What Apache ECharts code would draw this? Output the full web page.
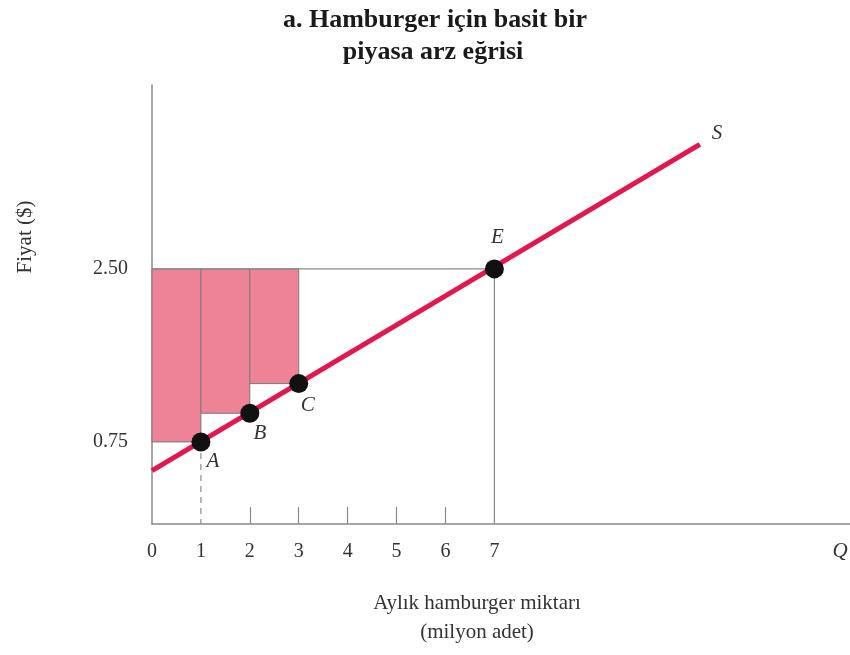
<!DOCTYPE html>
<html><head><meta charset="utf-8">
<script src="https://cdn.jsdelivr.net/npm/echarts@6/dist/echarts.min.js"></script>
<style>html,body{margin:0;padding:0;background:#fff}#c{width:850px;height:655px}</style>
</head><body><div id="c"></div>
<script>
// ---- data ----
const quantities = [1, 2, 3, 7];
const supplyPrices = [0.75, 1.04, 1.34, 2.50];
const pointNames = ['A', 'B', 'C', 'E'];
const marketPrice = 2.50;
const supplyCurveQ = [0, 11.2];
const supplyCurveP = [0.46, 3.76];
const xTickLabels = [0, 1, 2, 3, 4, 5, 6, 7];
const yTickLabels = [0.75, 2.50];
const rectQ = [1, 2, 3];
const rectP = [0.75, 1.04, 1.34];

const SERIF = '"Liberation Serif", "DejaVu Serif", serif';
const yMin = -0.08, yMax = 4.36, xMax = 14.27;
const gray = '#8a8a8a';

const chart = echarts.init(document.getElementById('c'), null, {renderer: 'canvas'});

const labelOffsets = [[12, 20], [10, 20], [9, 22], [3, -31]];

chart.setOption({
  animation: false,
  grid: {left: 152, top: 85, right: 0, bottom: 131, containLabel: false},
  xAxis: {
    type: 'value', min: 0, max: xMax,
    axisLine: {show: true, onZero: false, lineStyle: {color: gray, width: 1.5}},
    axisTick: {show: true, inside: true, length: 17, customValues: [2, 3, 4, 5, 6], lineStyle: {color: gray, width: 1.2}},
    axisLabel: {customValues: xTickLabels, fontFamily: SERIF, fontSize: 20, color: '#333', margin: 18, formatter: v => String(v)},
    splitLine: {show: false}
  },
  yAxis: {
    type: 'value', min: yMin, max: yMax,
    axisLine: {show: true, onZero: false, lineStyle: {color: gray, width: 1.5}},
    axisTick: {show: false},
    axisLabel: {customValues: yTickLabels, fontFamily: SERIF, fontSize: 20, color: '#333', margin: 24, formatter: v => v.toFixed(2)},
    splitLine: {show: false}
  },
  graphic: [
    {type: 'text', x: 435, y: 20, style: {text: 'a. Hamburger için basit bir', font: 'bold 26px ' + SERIF, fill: '#1a1a1a', align: 'center', verticalAlign: 'middle'}},
    {type: 'text', x: 433, y: 52, style: {text: 'piyasa arz eğrisi', font: 'bold 26px ' + SERIF, fill: '#1a1a1a', align: 'center', verticalAlign: 'middle'}},
    {type: 'text', x: 25, y: 237, rotation: Math.PI / 2, style: {text: 'Fiyat ($)', font: '21px ' + SERIF, fill: '#333', align: 'center', verticalAlign: 'middle'}},
    {type: 'text', x: 477, y: 603, style: {text: 'Aylık hamburger miktarı', font: '21px ' + SERIF, fill: '#333', align: 'center', verticalAlign: 'middle'}},
    {type: 'text', x: 477, y: 632, style: {text: '(milyon adet)', font: '21px ' + SERIF, fill: '#333', align: 'center', verticalAlign: 'middle'}},
    {type: 'text', x: 840, y: 551, style: {text: 'Q', font: 'italic 21px ' + SERIF, fill: '#333', align: 'center', verticalAlign: 'middle'}},
    {type: 'text', x: 717, y: 133, style: {text: 'S', font: 'italic 21px ' + SERIF, fill: '#333', align: 'center', verticalAlign: 'middle'}}
  ],
  series: [
    {
      type: 'custom', z: 1,
      data: rectQ.map((q, i) => [q, rectP[i]]),
      renderItem: (params, api) => {
        const q = api.value(0), p = api.value(1);
        const tl = api.coord([q - 1, marketPrice]);
        const br = api.coord([q, p]);
        return {type: 'rect', shape: {x: tl[0], y: tl[1], width: br[0] - tl[0], height: br[1] - tl[1]},
          style: {fill: '#ee8398', stroke: '#7a7a7a', lineWidth: 1}};
      }
    },
    {type: 'line', z: 2, data: [[0, marketPrice], [7, marketPrice]], symbol: 'none', lineStyle: {color: gray, width: 1.2}},
    {type: 'line', z: 2, data: [[7, marketPrice], [7, yMin]], symbol: 'none', lineStyle: {color: gray, width: 1.2}},
    {type: 'line', z: 2, data: [[1, 0.75], [1, yMin]], symbol: 'none', lineStyle: {color: gray, width: 1.2, type: [6, 5]}},
    {type: 'line', z: 3, data: supplyCurveQ.map((q, i) => [q, supplyCurveP[i]]), symbol: 'none',
      lineStyle: {color: '#e3164f', width: 5, cap: 'butt'}},
    {type: 'scatter', z: 4, symbolSize: 19, itemStyle: {color: '#111', opacity: 1},
      data: quantities.map((q, i) => ({
        value: [q, supplyPrices[i]],
        label: {show: true, formatter: pointNames[i], position: 'inside', offset: labelOffsets[i],
          fontFamily: SERIF, fontStyle: 'italic', fontSize: 21, color: '#333'}
      }))
    }
  ]
});
</script></body></html>
